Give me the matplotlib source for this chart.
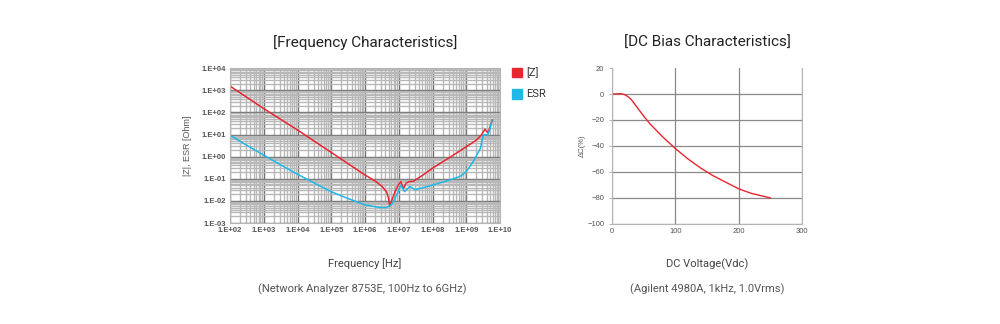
import matplotlib
matplotlib.use("Agg")
import matplotlib.pyplot as plt
from matplotlib.ticker import LogLocator, FixedLocator, NullFormatter
from matplotlib.patches import Rectangle

# ---------------- data ----------------
z_freq_hz = [1e2, 1e3, 1e4, 1e5, 1e6, 2.0e6, 3.2e6, 4.4e6, 5.0e6, 5.4e6, 6.3e6, 7.9e6,
             1.0e7, 1.15e7, 1.3e7, 1.4e7, 1.65e7, 2.0e7, 2.7e7, 3.5e7, 5.0e7, 1e8,
             3.2e8, 1e9, 2.0e9, 2.8e9, 3.6e9, 4.2e9, 4.6e9, 5.2e9, 6.0e9]
z_ohm = [1550, 148, 16, 1.55, 0.148, 0.079, 0.045, 0.025, 0.0126, 0.0056, 0.0112, 0.028,
         0.056, 0.074, 0.045, 0.038, 0.063, 0.074, 0.076, 0.1, 0.14, 0.3,
         0.91, 2.8, 5.6, 9.5, 17.4, 12.6, 14, 25, 45]

esr_freq_hz = [1e2, 3.2e2, 1e3, 3.2e3, 1e4, 3.2e4, 1e5, 3.2e5, 1e6, 2.75e6, 4.4e6, 6.2e6,
               8.7e6, 1.15e7, 1.48e7, 2.14e7, 3.0e7, 5.4e7, 1e8, 2.6e8, 6.5e8, 1e9,
               1.6e9, 2.6e9, 3.2e9, 3.7e9, 4.3e9, 5.0e9, 5.8e9]
esr_ohm = [9.3, 3.2, 1.17, 0.42, 0.16, 0.063, 0.026, 0.0126, 0.0066, 0.005, 0.005, 0.0071,
           0.0186, 0.052, 0.026, 0.045, 0.032, 0.04, 0.052, 0.079, 0.126, 0.21,
           0.59, 2.3, 9.3, 10, 9.3, 17, 45]

freq_ticks = [1e2, 1e3, 1e4, 1e5, 1e6, 1e7, 1e8, 1e9, 1e10]
freq_labels = ["1.E+02", "1.E+03", "1.E+04", "1.E+05", "1.E+06", "1.E+07", "1.E+08", "1.E+09", "1.E+10"]
imp_ticks = [1e-3, 1e-2, 1e-1, 1e0, 1e1, 1e2, 1e3, 1e4]
imp_labels = ["1.E-03", "1.E-02", "1.E-01", "1.E+00", "1.E+01", "1.E+02", "1.E+03", "1.E+04"]

dc_voltage = [0, 5, 10, 15, 20, 25, 30, 40, 50, 60, 80, 100, 120, 140, 160, 180, 200, 220, 250]
dc_change = [0, 0, 0.2, 0.2, -0.5, -2, -4, -10.5, -17, -23, -33, -42, -50, -57, -63, -68, -73, -76.5, -80]

red = "#e8262f"
blue = "#1eb9e8"
tick_font = "Liberation Sans"
text_font = "Roboto"

fig = plt.figure(figsize=(10, 3.24), dpi=100)

# ---------------- left: frequency ----------------
ax1 = fig.add_axes([0.23, 0.3117, 0.27, 0.478])
ax1.plot(z_freq_hz, z_ohm, color=red, lw=1.1, label="[Z]")
ax1.plot(esr_freq_hz, esr_ohm, color=blue, lw=1.1, label="ESR")
ax1.set_xscale("log")
ax1.set_yscale("log")
ax1.set_xlim(1e2, 1e10)
ax1.set_ylim(1e-3, 1e4)
ax1.xaxis.set_major_locator(FixedLocator(freq_ticks))
ax1.yaxis.set_major_locator(FixedLocator(imp_ticks))
ax1.set_xticklabels(freq_labels)
ax1.set_yticklabels(imp_labels)
ax1.xaxis.set_minor_locator(LogLocator(base=10, subs=range(2, 10), numticks=20))
ax1.yaxis.set_minor_locator(LogLocator(base=10, subs=range(2, 10), numticks=20))
ax1.xaxis.set_minor_formatter(NullFormatter())
ax1.yaxis.set_minor_formatter(NullFormatter())
ax1.grid(which="minor", color="#b8b8b8", lw=1.0)
ax1.grid(which="major", color="#707070", lw=1.0)
ax1.set_axisbelow(True)
ax1.tick_params(which="both", length=0, pad=3)
for lab in ax1.get_xticklabels() + ax1.get_yticklabels():
    lab.set_fontsize(5.5)
    lab.set_color("#555555")
    lab.set_fontfamily(tick_font)
    lab.set_fontweight("bold")
for s in ax1.spines.values():
    s.set_color("#b5b5b5")
    s.set_linewidth(0.8)
ax1.set_ylabel("|Z|, ESR [Ohm]", fontsize=6.5, color="#555555", family=tick_font, labelpad=7)
ax1.set_title("[Frequency Characteristics]", fontsize=11, color="#222222", family=text_font, pad=15)
ax1.set_xlabel("Frequency [Hz]", fontsize=8, color="#444444", family=text_font, labelpad=17)

# legend (custom squares)
fig.patches.append(Rectangle((0.512, 0.762), 0.0095, 0.029, transform=fig.transFigure,
                             color=red, zorder=5))
fig.patches.append(Rectangle((0.512, 0.695), 0.0095, 0.029, transform=fig.transFigure,
                             color=blue, zorder=5))
fig.text(0.526, 0.776, "[Z]", fontsize=8, color="#333333", family=text_font, va="center")
fig.text(0.526, 0.709, "ESR", fontsize=8, color="#333333", family=text_font, va="center")

fig.text(0.362, 0.108, "(Network Analyzer 8753E, 100Hz to 6GHz)", fontsize=8,
         color="#555555", family=text_font, ha="center", va="center")

# ---------------- right: DC bias ----------------
ax2 = fig.add_axes([0.612, 0.309, 0.19, 0.481])
ax2.plot(dc_voltage, dc_change, color=red, lw=1.0)
ax2.set_xlim(0, 300)
ax2.set_ylim(-100, 20)
ax2.set_xticks([0, 100, 200, 300])
ax2.set_yticks([20, 0, -20, -40, -60, -80, -100])
ax2.grid(True, color="#8a8a8a", lw=0.9)
for gl, tv in zip(ax2.yaxis.get_gridlines(), ax2.get_yticks()):
    if tv == 20:
        gl.set_visible(False)
ax2.set_axisbelow(True)
ax2.tick_params(length=2.5, width=0.6, color="#aaaaaa", pad=3, labelsize=5.5, labelcolor="#555555")
for lab in ax2.get_xticklabels() + ax2.get_yticklabels():
    lab.set_fontfamily(tick_font)
ax2.tick_params(axis="x", length=0)
ax2.spines["top"].set_visible(False)
for k in ["left", "bottom", "right"]:
    ax2.spines[k].set_color("#b5b5b5")
    ax2.spines[k].set_linewidth(0.8)
ax2.set_ylabel("ΔC(%)", fontsize=5.5, color="#555555", family=tick_font, labelpad=1)
ax2.set_title("[DC Bias Characteristics]", fontsize=11, color="#222222", family=text_font, pad=15)
ax2.set_xlabel("DC Voltage(Vdc)", fontsize=8, color="#444444", family=text_font, labelpad=17)
fig.text(0.707, 0.108, "(Agilent 4980A, 1kHz, 1.0Vrms)", fontsize=8,
         color="#555555", family=text_font, ha="center", va="center")

fig.savefig("out.png", dpi=100, facecolor="white")
